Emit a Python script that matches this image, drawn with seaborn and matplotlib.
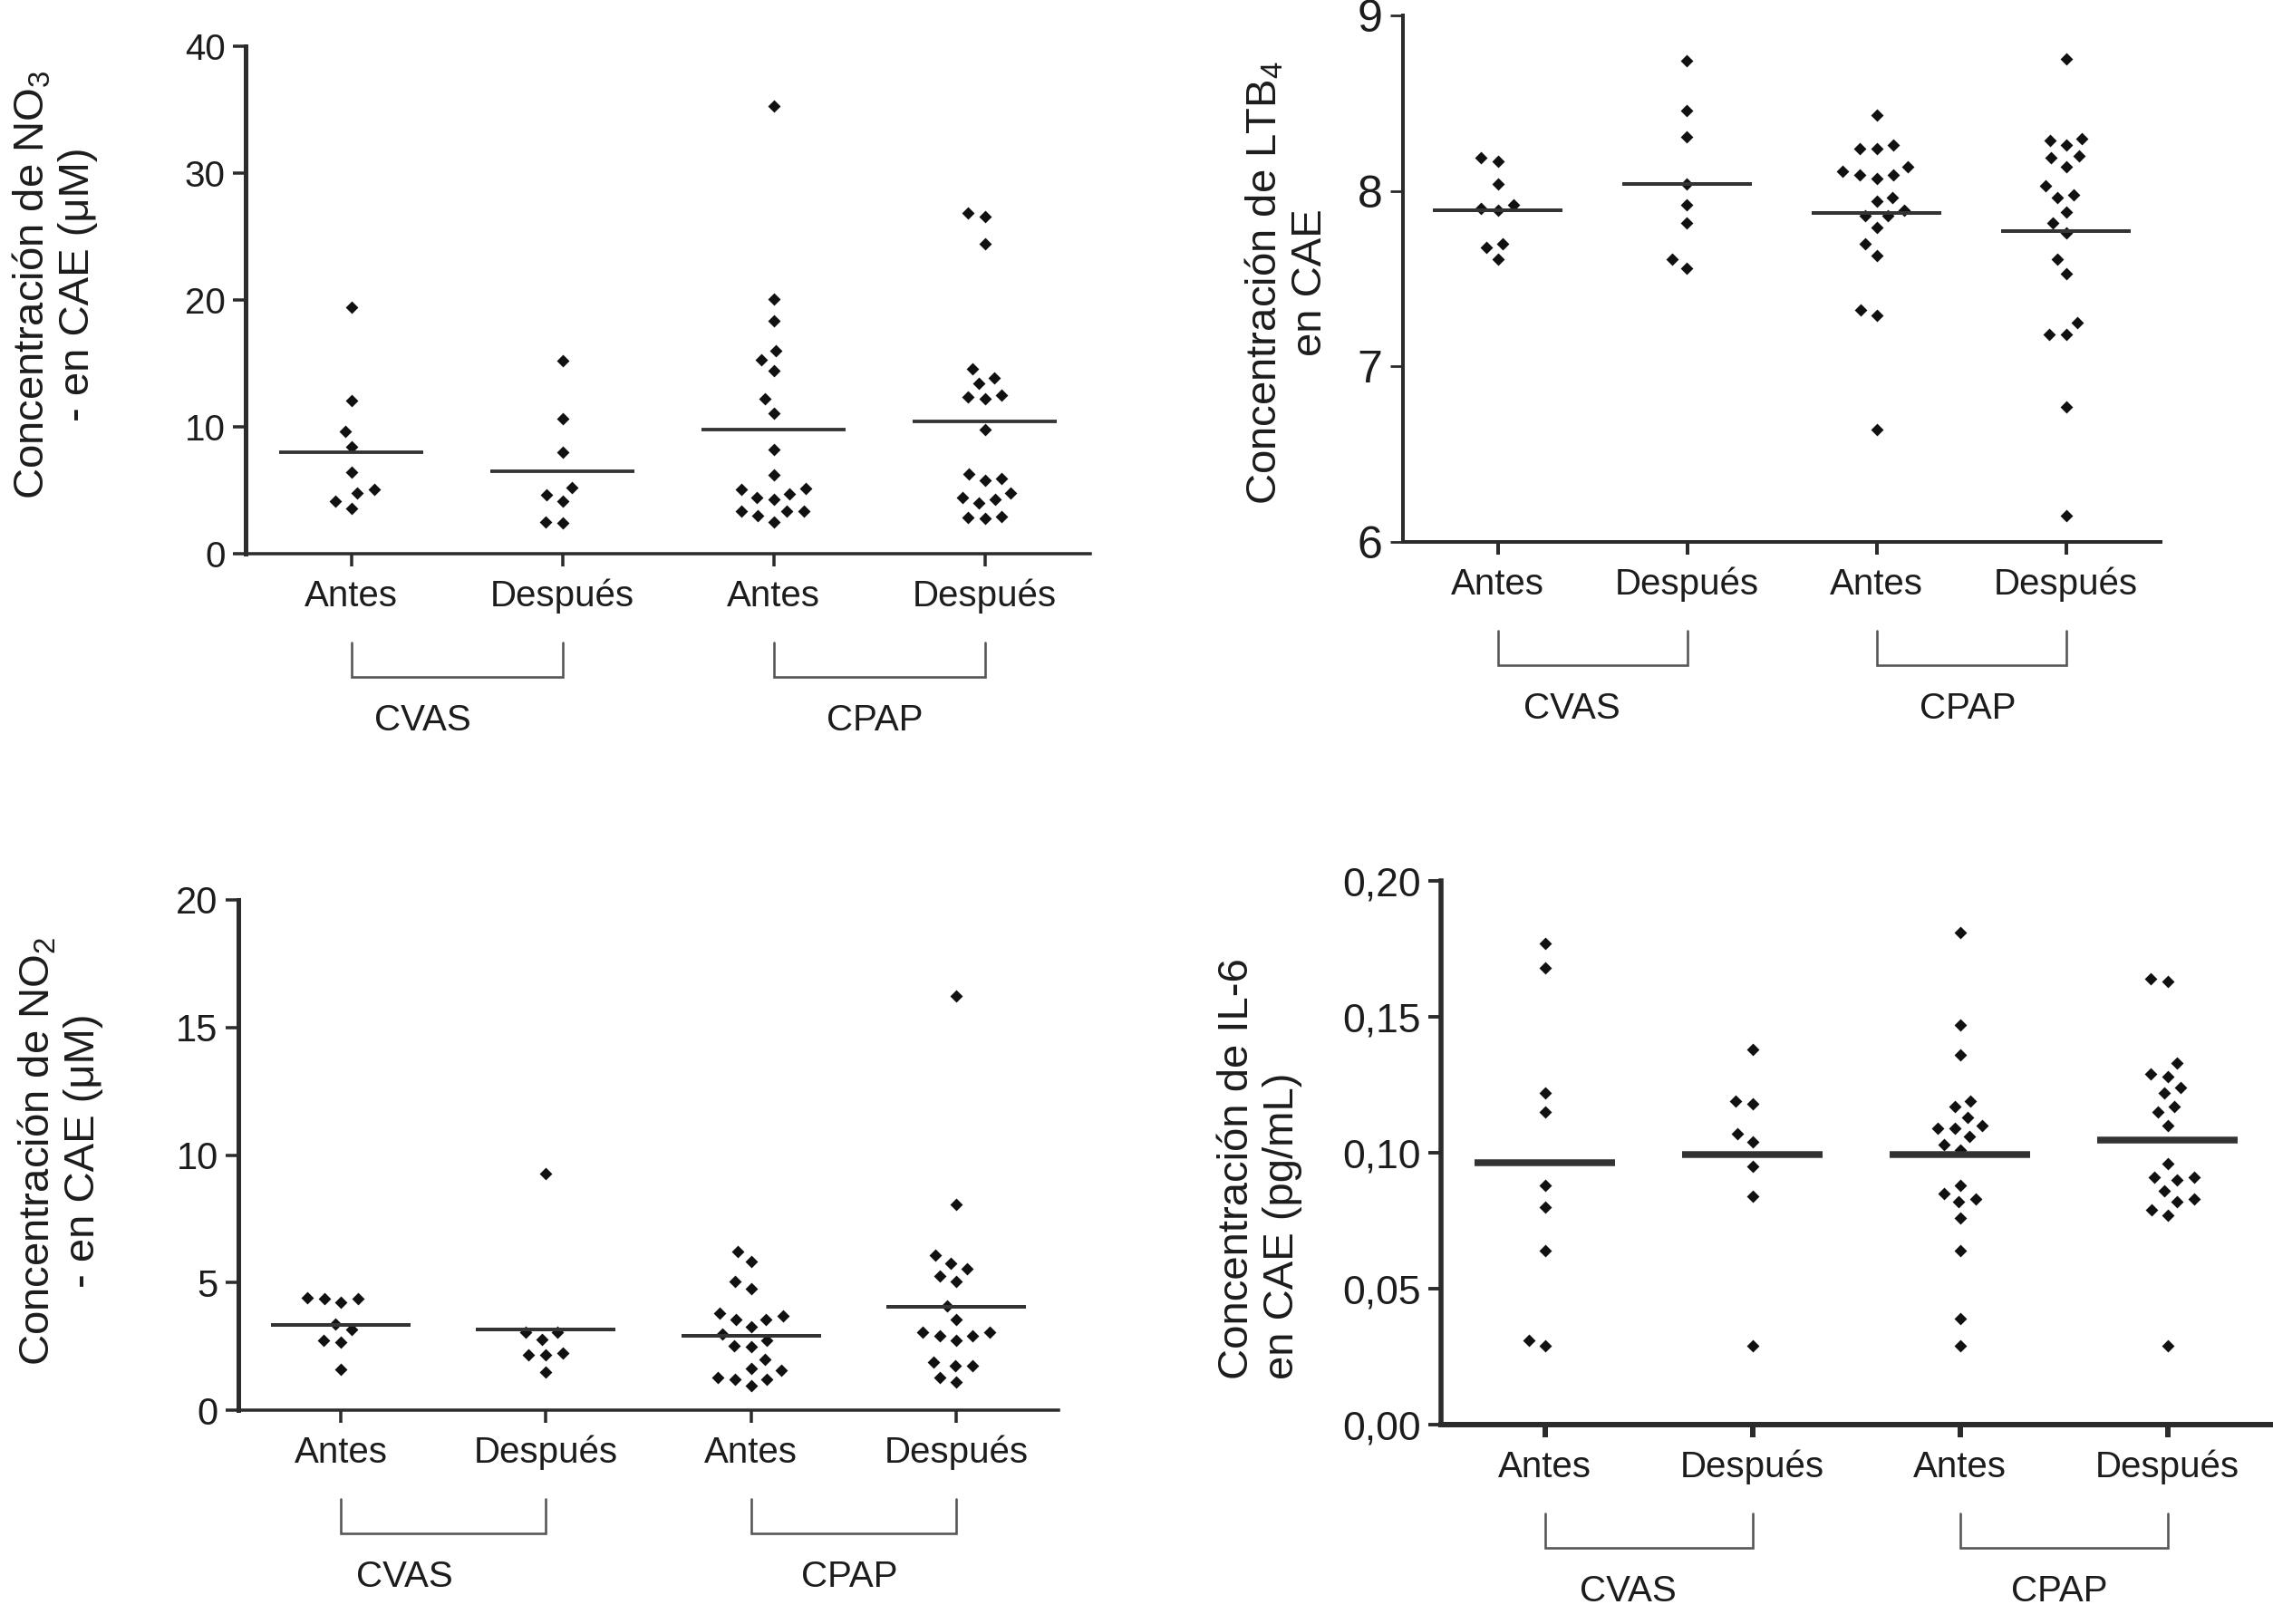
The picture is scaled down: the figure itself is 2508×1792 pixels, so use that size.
import numpy as np
import pandas as pd
import seaborn as sns
import matplotlib.pyplot as plt
from matplotlib.path import Path

W_PX, H_PX = 2508, 1792
PX = 72 / 100  # px -> pt at dpi 100

grupos = ["CVAS Antes", "CVAS Después", "CPAP Antes", "CPAP Después"]
etiquetas_x = ["Antes", "Después", "Antes", "Después"]

# NO3 (uM)
no3_cvas_antes = [19.4, 12.05, 9.65, 8.45, 6.4, 5.07, 4.8, 4.13, 3.6]
no3_cvas_despues = [15.2, 10.67, 8.0, 5.2, 4.67, 4.13, 2.48, 2.4]
no3_cpap_antes = [35.3, 20.1, 18.35, 16.0, 15.3, 14.4, 12.2, 11.1, 8.19, 6.2,
                  5.15, 5.07, 4.72, 4.4, 4.27, 3.33, 3.33, 3.33, 3.0, 2.53]
no3_cpap_despues = [26.85, 26.6, 24.4, 14.6, 13.87, 13.4, 12.53, 12.35, 12.2, 9.79,
                    6.27, 5.92, 5.79, 4.8, 4.4, 4.27, 4.0, 2.93, 2.88, 2.8]
no3_medias = [8.0, 6.53, 9.79, 10.4]

# LTB4
ltb4_cvas_antes = [8.19, 8.17, 8.04, 7.92, 7.90, 7.89, 7.70, 7.68, 7.61]
ltb4_cvas_despues = [8.74, 8.46, 8.31, 8.04, 7.92, 7.82, 7.61, 7.56]
ltb4_cpap_antes = [8.43, 8.26, 8.24, 8.24, 8.14, 8.11, 8.09, 8.09, 8.07, 7.96,
                   7.94, 7.89, 7.86, 7.86, 7.79, 7.70, 7.63, 7.32, 7.29, 6.64]
ltb4_cpap_despues = [8.75, 8.30, 8.29, 8.26, 8.20, 8.19, 8.14, 8.03, 7.98, 7.96,
                     7.88, 7.82, 7.76, 7.61, 7.53, 7.25, 7.18, 7.18, 6.77, 6.15]
ltb4_medias = [7.89, 8.04, 7.875, 7.77]

# NO2 (uM)
no2_cvas_antes = [4.40, 4.36, 4.36, 4.22, 3.37, 3.17, 2.72, 2.68, 1.59]
no2_cvas_despues = [9.26, 3.04, 3.04, 2.77, 2.25, 2.15, 2.15, 1.50]
no2_cpap_antes = [6.23, 5.83, 5.04, 4.77, 3.81, 3.71, 3.57, 3.57, 3.27, 3.0,
                  2.72, 2.52, 2.49, 2.0, 1.63, 1.57, 1.27, 1.20, 1.20, 0.95]
no2_cpap_despues = [16.25, 8.08, 6.06, 5.76, 5.54, 5.25, 5.04, 4.09, 3.54, 3.04,
                    3.04, 2.90, 2.90, 2.72, 1.87, 1.73, 1.73, 1.27, 1.09]
no2_medias = [3.34, 3.17, 2.90, 4.06]

# IL-6 (pg/mL)
il6_cvas_antes = [0.177, 0.168, 0.122, 0.115, 0.088, 0.080, 0.064, 0.031, 0.029]
il6_cvas_despues = [0.138, 0.119, 0.118, 0.107, 0.104, 0.095, 0.084, 0.029]
il6_cpap_antes = [0.181, 0.147, 0.136, 0.119, 0.117, 0.113, 0.110, 0.109, 0.109, 0.106,
                  0.103, 0.101, 0.088, 0.085, 0.083, 0.082, 0.076, 0.064, 0.039, 0.029]
il6_cpap_despues = [0.164, 0.163, 0.133, 0.129, 0.128, 0.124, 0.122, 0.117, 0.115, 0.110,
                    0.096, 0.091, 0.091, 0.090, 0.086, 0.083, 0.082, 0.079, 0.077, 0.029]
il6_medias = [0.0965, 0.0992, 0.0992, 0.1047]


def to_long(series):
    rows = []
    for g, vals in zip(grupos, series):
        for v in vals:
            rows.append((g, v))
    return pd.DataFrame(rows, columns=["grupo", "valor"])


def marker_rombo():
    # small diamond, padded so the swarm keeps the wide spacing of the original
    verts = [(0, 1), (1, 0), (0, -1), (-1, 0), (0, 1), (1.3, 0)]
    codes = [Path.MOVETO, Path.LINETO, Path.LINETO, Path.LINETO,
             Path.CLOSEPOLY, Path.MOVETO]
    return Path(verts, codes)


panels = [
    dict(series=[no3_cvas_antes, no3_cvas_despues, no3_cpap_antes, no3_cpap_despues],
         medias=no3_medias, ylim=(0, 40), yticks=[0, 10, 20, 30, 40],
         yticklabels=["0", "10", "20", "30", "40"],
         rect=(271, 51, 932, 560),
         ylabel="Concentración de NO$_\\mathregular{3}$\n- en CAE (μM)",
         ylabel_xy=(60, 314), ylabel_ma="center", ytick_size=29,
         lw_y=5, lw_x=3.5, lw_media=3.8, cvas_x=0.34),
    dict(series=[ltb4_cvas_antes, ltb4_cvas_despues, ltb4_cpap_antes, ltb4_cpap_despues],
         medias=ltb4_medias, ylim=(6, 9), yticks=[6, 7, 8, 9],
         yticklabels=["6", "7", "8", "9"],
         rect=(1548, 17, 836, 581),
         ylabel="Concentración de LTB$_\\mathregular{4}$\nen CAE",
         ylabel_xy=(1420, 312), ylabel_ma="center", ytick_size=36,
         lw_y=4, lw_x=4, lw_media=4, cvas_x=0.39),
    dict(series=[no2_cvas_antes, no2_cvas_despues, no2_cpap_antes, no2_cpap_despues],
         medias=no2_medias, ylim=(0, 20), yticks=[0, 5, 10, 15, 20],
         yticklabels=["0", "5", "10", "15", "20"],
         rect=(263, 993, 905, 563),
         ylabel="Concentración de NO$_\\mathregular{2}$\n- en CAE (μM)",
         ylabel_xy=(66, 1270), ylabel_ma="center", ytick_size=30,
         lw_y=5, lw_x=3.5, lw_media=4, cvas_x=0.31),
    dict(series=[il6_cvas_antes, il6_cvas_despues, il6_cpap_antes, il6_cpap_despues],
         medias=il6_medias, ylim=(0, 0.20), yticks=[0, 0.05, 0.10, 0.15, 0.20],
         yticklabels=["0,00", "0,05", "0,10", "0,15", "0,20"],
         rect=(1590, 972, 916, 600),
         ylabel="Concentración de IL-6\nen CAE (pg/mL)",
         ylabel_xy=(1390, 1290), ylabel_ma="left", ytick_size=32,
         lw_y=5.5, lw_x=6, lw_media=7.5, cvas_x=0.40),
]

sns.set_style("ticks")
plt.rcParams["font.family"] = ["Liberation Sans", "DejaVu Sans"]
plt.rcParams["mathtext.fontset"] = "custom"
plt.rcParams["mathtext.rm"] = "Liberation Sans"
plt.rcParams["mathtext.it"] = "Liberation Sans:italic"

texto = "#1c1c1c"
eje = "#2b2b2b"

fig = plt.figure(figsize=(W_PX / 100, H_PX / 100), dpi=100)
fig.patch.set_facecolor("white")

for p in panels:
    l, t, w, h = p["rect"]
    ax = fig.add_axes([l / W_PX, 1 - (t + h) / H_PX, w / W_PX, h / H_PX])
    df = to_long(p["series"])

    sns.swarmplot(data=df, x="grupo", y="valor", order=grupos, ax=ax,
                  color="#111111", size=13, marker=marker_rombo(), linewidth=0,
                  zorder=2)

    pos = np.arange(len(grupos))
    ax.hlines(p["medias"], pos - 0.34, pos + 0.34, color="#333333",
              lw=p["lw_media"] * PX, zorder=3)

    ax.set_xlim(-0.5, 3.5)
    ax.set_ylim(*p["ylim"])
    ax.set_yticks(p["yticks"])
    ax.set_yticklabels(p["yticklabels"])
    ax.set_xticks(pos)
    ax.set_xticklabels(etiquetas_x)
    ax.set_xlabel("")
    ax.set_ylabel("")

    sns.despine(ax=ax)
    ax.spines["left"].set_linewidth(p["lw_y"] * PX)
    ax.spines["bottom"].set_linewidth(p["lw_x"] * PX)
    ax.spines["left"].set_color(eje)
    ax.spines["bottom"].set_color(eje)
    ax.tick_params(axis="y", direction="out", length=14 * PX, width=p["lw_y"] * 0.7 * PX,
                   color=eje, labelsize=p["ytick_size"], labelcolor=texto, pad=6)
    ax.tick_params(axis="x", direction="out", length=14 * PX, width=p["lw_x"] * PX,
                   color=eje, labelsize=29, labelcolor=texto, pad=10)

    # brackets for the two study groups
    trans = ax.get_xaxis_transform()
    y_top = -98 / h
    y_bot = -136 / h
    for a, b in [(0, 1), (2, 3)]:
        ax.plot([a, a, b, b], [y_top, y_bot, y_bot, y_top], transform=trans,
                color="#555555", lw=2.6 * PX, clip_on=False,
                solid_joinstyle="miter")
    y_lab = -184 / h
    ax.text(p["cvas_x"], y_lab, "CVAS", transform=trans, ha="center", va="center",
            fontsize=29, color=texto)
    ax.text(2.48, y_lab, "CPAP", transform=trans, ha="center", va="center",
            fontsize=29, color=texto)

    lx, ly = p["ylabel_xy"]
    fig.text(lx / W_PX, 1 - ly / H_PX, p["ylabel"], rotation=90, ha="center",
             va="center", multialignment=p["ylabel_ma"], fontsize=34,
             linespacing=1.17, color=texto)

fig.savefig("out.png", dpi=100, facecolor="white")
